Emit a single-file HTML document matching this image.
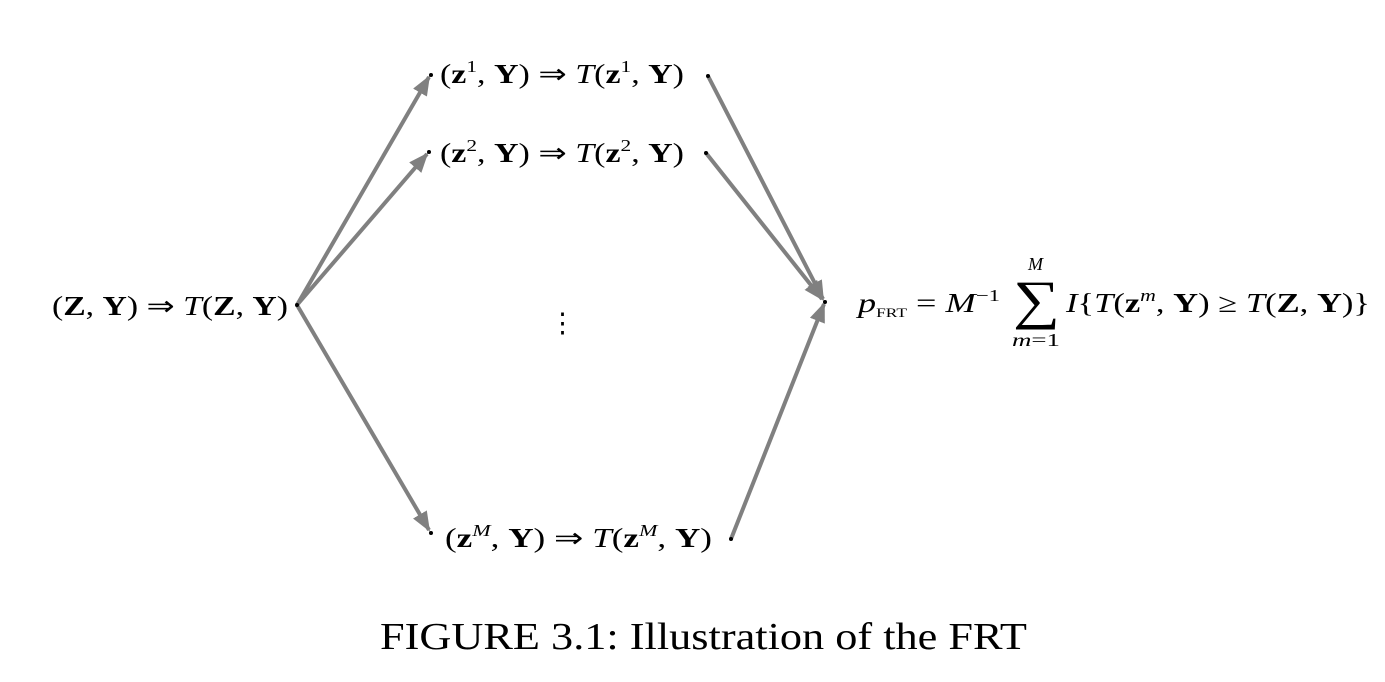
<!DOCTYPE html>
<html><head><meta charset="utf-8"><style>
html,body{margin:0;padding:0;background:#fff;}
svg{display:block;}
text{font-family:"Liberation Serif",serif;fill:#000;}
.b{font-weight:bold;}
.i{font-style:italic;}
</style></head><body>
<svg width="1385" height="682" viewBox="0 0 1385 682">
<defs>
<marker id="ah" viewBox="0 0 10 10" refX="9" refY="5" markerWidth="5" markerHeight="5" orient="auto" markerUnits="strokeWidth">
<path d="M0,1 L10,5 L0,9 z" fill="#808080"/>
</marker>
</defs>
<g stroke="#808080" stroke-width="4" fill="none">
<line x1="297" y1="305" x2="429" y2="77" marker-end="url(#ah)"/>
<line x1="297" y1="305" x2="427" y2="154" marker-end="url(#ah)"/>
<line x1="297" y1="305" x2="429" y2="530" marker-end="url(#ah)"/>
<line x1="708" y1="76" x2="823" y2="299" marker-end="url(#ah)"/>
<line x1="706" y1="153" x2="822" y2="299" marker-end="url(#ah)"/>
<line x1="731" y1="539" x2="824" y2="304" marker-end="url(#ah)"/>
</g>
<g fill="#000">
<circle cx="297" cy="305" r="2"/><circle cx="431" cy="75" r="2"/><circle cx="429" cy="152" r="2"/>
<circle cx="431" cy="533" r="2"/><circle cx="708" cy="76" r="2"/><circle cx="706" cy="153" r="2"/>
<circle cx="731" cy="539" r="2"/><circle cx="825" cy="302" r="2"/>
</g>
<text x="52" y="315" font-size="27" textLength="236" lengthAdjust="spacingAndGlyphs">(<tspan class="b">Z</tspan>, <tspan class="b">Y</tspan>) ⇒ <tspan class="i">T</tspan>(<tspan class="b">Z</tspan>, <tspan class="b">Y</tspan>)</text>
<text x="440" y="83" font-size="27" textLength="244" lengthAdjust="spacingAndGlyphs">(<tspan class="b">z</tspan><tspan font-size="17" dy="-11">1</tspan><tspan dy="11">, </tspan><tspan class="b">Y</tspan>) ⇒ <tspan class="i">T</tspan>(<tspan class="b">z</tspan><tspan font-size="17" dy="-11">1</tspan><tspan dy="11">, </tspan><tspan class="b">Y</tspan>)</text>
<text x="440" y="162" font-size="27" textLength="244" lengthAdjust="spacingAndGlyphs">(<tspan class="b">z</tspan><tspan font-size="17" dy="-11">2</tspan><tspan dy="11">, </tspan><tspan class="b">Y</tspan>) ⇒ <tspan class="i">T</tspan>(<tspan class="b">z</tspan><tspan font-size="17" dy="-11">2</tspan><tspan dy="11">, </tspan><tspan class="b">Y</tspan>)</text>
<text x="445" y="547" font-size="27" textLength="267" lengthAdjust="spacingAndGlyphs">(<tspan class="b">z</tspan><tspan font-size="17" class="i" dy="-11">M</tspan><tspan dy="11">, </tspan><tspan class="b">Y</tspan>) ⇒ <tspan class="i">T</tspan>(<tspan class="b">z</tspan><tspan font-size="17" class="i" dy="-11">M</tspan><tspan dy="11">, </tspan><tspan class="b">Y</tspan>)</text>
<text x="549" y="332" font-size="27">⋮</text>
<g>
<text x="858" y="312" font-size="27" textLength="142" lengthAdjust="spacingAndGlyphs"><tspan class="i">p</tspan><tspan font-size="13" dy="5">FRT</tspan><tspan dy="-5"> = </tspan><tspan class="i">M</tspan><tspan font-size="17" dy="-11">−1</tspan></text>
<text x="1013" y="318" font-size="54" textLength="47" lengthAdjust="spacingAndGlyphs">∑</text>
<text x="1028" y="270" font-size="18" class="i">M</text>
<text x="1012" y="346" font-size="18" textLength="48" lengthAdjust="spacingAndGlyphs"><tspan class="i">m</tspan>=1</text>
<text x="1066" y="312" font-size="27" textLength="304" lengthAdjust="spacingAndGlyphs"><tspan class="i">I</tspan>{<tspan class="i">T</tspan>(<tspan class="b">z</tspan><tspan font-size="17" class="i" dy="-11">m</tspan><tspan dy="11">, </tspan><tspan class="b">Y</tspan>) ≥ <tspan class="i">T</tspan>(<tspan class="b">Z</tspan>, <tspan class="b">Y</tspan>)}</text>
</g>
<text x="380" y="649" font-size="38" textLength="647" lengthAdjust="spacingAndGlyphs">FIGURE 3.1: Illustration of the FRT</text>
</svg>
</body></html>
